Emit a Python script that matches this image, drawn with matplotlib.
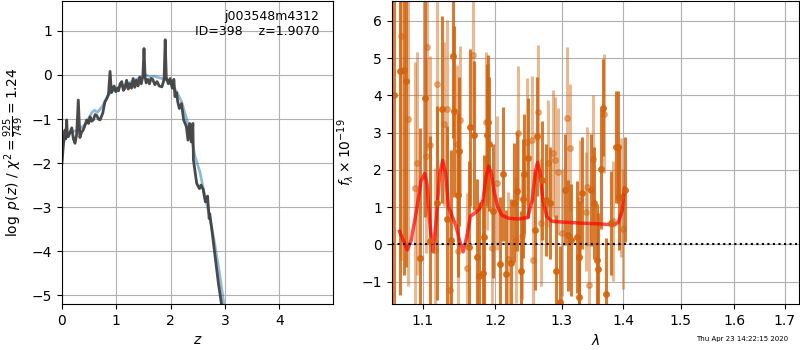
import matplotlib
matplotlib.use('Agg')
import matplotlib.pyplot as plt
from matplotlib.ticker import FormatStrFormatter, NullFormatter, NullLocator

# --- p(z) panel ---
z_pz = [0.0, 0.03, 0.055, 0.07, 0.086, 0.10, 0.117, 0.15, 0.18, 0.21, 0.24, 0.27, 0.30, 0.33,
        0.36, 0.39, 0.42, 0.455, 0.49, 0.516, 0.545, 0.577, 0.61, 0.64, 0.67, 0.70, 0.75, 0.79,
        0.82, 0.855, 0.885, 0.91, 0.93, 0.96, 0.99, 1.02, 1.04, 1.07, 1.10, 1.13, 1.16, 1.19,
        1.22, 1.25, 1.28, 1.31, 1.34, 1.37, 1.40, 1.43, 1.46, 1.49, 1.51, 1.53, 1.55, 1.58, 1.61,
        1.64, 1.67, 1.71, 1.75, 1.79, 1.84, 1.88, 1.90, 1.92, 1.93, 1.96, 1.99, 2.03, 2.06, 2.08,
        2.11, 2.13, 2.16, 2.20, 2.24, 2.29, 2.32, 2.35, 2.38, 2.41, 2.42, 2.48, 2.53, 2.56, 2.60,
        2.64, 2.68, 2.71, 2.72, 2.76, 2.82, 2.88, 2.94]
logp = [-2.0, -1.5, -1.25, -1.45, -1.02, -1.38, -1.40, -1.3, -1.2, -1.45, -1.55, -1.35, -0.57,
        -1.42, -1.3, -1.25, -1.15, -1.02, -1.1, -0.95, -1.05, -1.02, -0.9, -0.92, -1.0, -1.02,
        -0.87, -0.61, -0.55, -0.45, 0.08, -0.4, -0.34, -0.25, -0.38, -0.3, -0.36, -0.2, -0.15,
        -0.35, -0.3, -0.12, -0.32, -0.2, -0.3, -0.08, -0.28, -0.12, -0.25, -0.05, -0.2, -0.02,
        0.6, -0.05, -0.18, -0.1, -0.2, -0.08, -0.1, -0.22, -0.15, -0.25, -0.27, -0.1, 0.8, -0.05,
        -0.1, -0.2, -0.08, -0.3, -0.1, -0.49, -0.4, -0.6, -0.76, -0.65, -1.02, -1.17, -1.48,
        -1.1, -1.52, -1.1, -1.93, -2.46, -2.58, -2.5, -2.6, -2.88, -2.75, -3.26, -3.15, -3.52,
        -4.13, -4.73, -5.23]

z_prior = [0.0, 0.05, 0.15, 0.3, 0.45, 0.55, 0.6, 0.65, 0.75, 0.85, 1.0, 1.2, 1.4, 1.55, 1.62,
           1.7, 1.9, 1.99, 2.11, 2.2, 2.3, 2.39, 2.45, 2.5, 2.54, 2.58, 2.62, 2.7, 2.8, 2.9, 2.98]
prior = [-1.7, -1.45, -1.3, -1.25, -1.1, -0.85, -0.8, -0.85, -0.7, -0.45, -0.3, -0.2, -0.08, 0.0,
         -0.04, -0.03, -0.1, -0.14, -0.38, -0.6, -1.02, -1.48, -1.85, -2.05, -2.2, -2.45, -2.7,
         -3.1, -3.75, -4.5, -5.2]

# --- spectrum panel: two beams ---
wave_a = [1.063, 1.071, 1.0756, 1.0787, 1.0965, 1.1033, 1.1102, 1.119, 1.1265, 1.1322, 1.1381,
          1.1414, 1.1428, 1.1474, 1.1488, 1.1628, 1.1651, 1.1698, 1.1744, 1.1777, 1.1823, 1.1847,
          1.1884, 1.1893, 1.1916, 1.1967, 1.2074, 1.2114, 1.2158, 1.2233, 1.2272, 1.2327, 1.2376,
          1.2416, 1.2431, 1.248, 1.2589, 1.2619, 1.2703, 1.2752, 1.2827, 1.2916, 1.2975, 1.3054,
          1.3108, 1.3146, 1.3243, 1.327, 1.3281, 1.3325, 1.3471, 1.3514, 1.3557, 1.3584, 1.3622,
          1.3665, 1.3714, 1.3795, 1.3881, 1.3908, 1.3924, 1.4032]
flux_a = [4.02, 4.64, 4.67, 4.38, -0.37, 3.94, 0.1, 1.12, 3.62, 0.67, 0.13, 5.05, 3.57, 1.32, 2.5,
          -0.06, 3.14, 2.93, -0.35, -0.85, -0.78, 0.19, 2.93, 3.27, 2.7, 0.9, -0.54, 1.88, -0.79,
          -0.49, 1.12, 1.42, -0.71, 1.23, 1.89, 2.32, 0.38, 2.9, 1.72, 1.19, 1.12, -0.71, -1.54,
          1.47, 0.24, 0.12, 0.2, -1.4, -0.33, 1.38, 1.46, 1.1, -0.42, -0.67, 2.02, 3.67, -1.34,
          0.58, 2.62, 2.62, 1.26, 1.47]
err_a = [6.5, 6.0, 5.5, 5.0, 3.5, 3.2, 2.8, 2.6, 2.5, 2.5, 2.4, 2.2, 2.3, 2.2, 2.0, 2.3, 2.1, 2.0,
         2.1, 2.0, 2.0, 2.2, 1.9, 1.8, 1.8, 1.8, 1.8, 1.8, 1.7, 1.7, 1.6, 1.6, 1.6, 1.6, 1.6, 1.6,
         1.6, 1.6, 1.6, 1.5, 1.5, 1.5, 1.5, 1.5, 1.5, 1.5, 1.5, 1.5, 1.5, 1.5, 1.5, 1.5, 1.5, 1.5,
         1.6, 1.3, 1.5, 1.4, 1.5, 1.5, 1.4, 1.4]

wave_b = [1.072, 1.081, 1.0898, 1.093, 1.1047, 1.1056, 1.1093, 1.1172, 1.1195, 1.1288, 1.1326,
          1.1372, 1.146, 1.1484, 1.1507, 1.16, 1.1688, 1.1874, 1.1879, 1.196, 1.2035, 1.2183,
          1.2307, 1.2332, 1.2401, 1.2465, 1.2549, 1.2554, 1.2638, 1.2678, 1.2797, 1.2861, 1.2901,
          1.295, 1.3009, 1.3081, 1.3124, 1.3298, 1.3379, 1.3406, 1.3433, 1.3498, 1.3676, 1.3827,
          1.3962, 1.4]
flux_b = [5.58, 3.37, 1.5, 2.17, 2.37, 5.3, 2.66, -0.15, 4.31, 3.22, 3.63, -1.22, 2.7, -0.18,
          3.33, -0.63, 5.07, 3.27, 2.28, -0.1, 1.65, -0.39, 0.12, 2.99, 0.23, 2.76, 2.81, -0.42,
          3.56, 0.58, 2.17, 2.44, 2.26, 1.95, 0.31, 3.4, 2.59, 1.19, 0.88, 1.55, -1.09, 2.3, 3.51,
          0.63, 1.26, 0.41]
err_b = [6.0, 4.5, 3.4, 3.0, 2.6, 2.8, 2.4, 2.2, 2.4, 2.2, 2.4, 2.1, 2.1, 2.0, 2.0, 2.0, 2.0,
         1.9, 1.9, 1.9, 1.8, 1.8, 1.7, 1.8, 1.7, 1.7, 1.7, 1.7, 1.8, 1.7, 1.7, 1.7, 1.7, 1.7,
         1.7, 1.9, 1.7, 1.6, 1.6, 1.6, 1.6, 1.7, 1.6, 1.6, 1.6, 1.6]

wave_model = [1.070, 1.075, 1.080, 1.085, 1.092, 1.098, 1.103, 1.106, 1.110, 1.114, 1.118, 1.123,
              1.127, 1.131, 1.135, 1.140, 1.145, 1.150, 1.155, 1.160, 1.165, 1.172, 1.178, 1.183,
              1.187, 1.191, 1.195, 1.199, 1.204, 1.210, 1.220, 1.235, 1.248, 1.255, 1.260, 1.263,
              1.267, 1.271, 1.277, 1.285, 1.300, 1.330, 1.360, 1.385, 1.392, 1.398, 1.402]
flux_model = [0.35, 0.1, -0.15, 0.1, 0.9, 1.7, 1.9, 1.6, 0.5, -0.2, 0.6, 1.9, 2.25, 1.9, 1.0,
              0.75, 0.5, 0.1, -0.2, 0.2, 0.75, 0.85, 0.95, 1.2, 1.8, 2.1, 1.9, 1.4, 1.0, 0.78, 0.7,
              0.68, 0.72, 1.2, 2.0, 2.2, 1.9, 1.2, 0.75, 0.62, 0.6, 0.57, 0.55, 0.52, 0.6, 0.9, 1.5]

xticks_r = [1.1, 1.2, 1.3, 1.4, 1.5, 1.6, 1.7]

fig = plt.figure(figsize=(8, 3.5), dpi=100)
ax1 = fig.add_axes([62/800, 1-304/350, 271/800, 303/350])
ax2 = fig.add_axes([391.7/800, 1-304/350, 407.3/800, 303/350])

ax1.plot(z_prior, prior, color='tab:blue', alpha=0.5, lw=2)
ax1.plot(z_pz, logp, color='0.25', lw=2, alpha=0.95)
ax1.set_xlim(0, 4.99)
ax1.set_ylim(-5.2, 1.68)
ax1.grid()
ax1.set_xlabel('$z$')
ax1.set_ylabel(r'$\log\ p(z)$ / $\chi^2=\frac{925}{749}=1.24$')
ax1.text(0.95, 0.97, 'j003548m4312\nID=398    z=1.9070', ha='right', va='top',
         transform=ax1.transAxes, fontsize=9)

col = '#d2640f'
ax2.errorbar(wave_b, flux_b, yerr=err_b, color=col, alpha=0.45, marker='o', ms=4,
             linestyle='None', elinewidth=2.2, capsize=0)
ax2.errorbar(wave_a, flux_a, yerr=err_a, color=col, alpha=0.85, marker='o', ms=4,
             linestyle='None', elinewidth=2.2, capsize=0)
ax2.plot(wave_model, flux_model, color='red', alpha=0.7, lw=2.5)
ax2.axhline(0, color='k', linestyle=':', lw=1.5)
ax2.set_xscale('log')
ax2.set_xlim(1.06, 1.729)
ax2.set_ylim(-1.6, 6.53)
ax2.set_xticks(xticks_r)
ax2.xaxis.set_major_formatter(FormatStrFormatter('%.1f'))
ax2.xaxis.set_minor_locator(NullLocator())
ax2.xaxis.set_minor_formatter(NullFormatter())
ax2.grid()
ax2.set_xlabel(r'$\lambda$')
ax2.set_ylabel(r'$f_\lambda \times 10^{-19}$')

fig.text(0.985, 0.031, 'Thu Apr 23 14:22:15 2020', ha='right', va='center', fontsize=5)

fig.savefig('out.png', dpi=100)
